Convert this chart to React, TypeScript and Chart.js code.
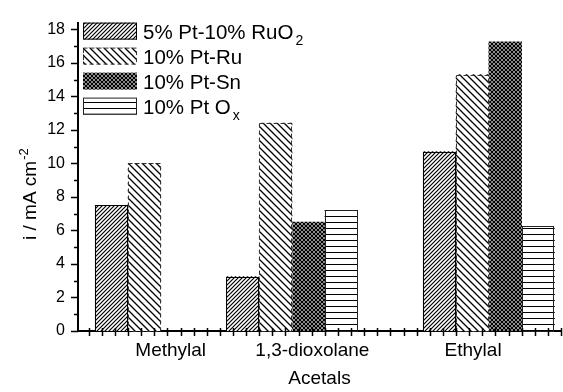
import React, { useEffect, useRef } from 'react';
import { Chart, registerables } from 'chart.js';

Chart.register(...registerables);

// ---- data ----
const CATEGORIES = ['Methylal', '1,3-dioxolane', 'Ethylal'];
const GROUP_X = [5.5, 15.5, 30.5];
const LABEL_X = [6.25, 17.05, 29.3];
const SERIES_NAMES = ['5% Pt-10% RuO', '10% Pt-Ru', '10% Pt-Sn', '10% Pt O'];
const SERIES_SUBS = ['2', '', '', 'x'];
const RUO2 = [7.5, 3.25, 10.7];
const PTRU = [10.0, 12.4, 15.3];
const PTSN: (number | null)[] = [null, 6.5, 17.25];
const PTOX: (number | null)[] = [null, 7.2, 6.27];
const X_MIN = -0.815;
const X_MAX = 36;
const Y_MIN = 0;
const Y_MAX = 18.4;
const X_TITLE = 'Acetals';
const Y_TITLE = 'i / mA cm';
const Y_TITLE_SUP = '-2';

const FONT = '"Liberation Sans", Arial, sans-serif';

type Kind = 'fwd' | 'back' | 'cross' | 'horiz';

function makePattern(ctx: CanvasRenderingContext2D, kind: Kind): CanvasPattern {
  const c = document.createElement('canvas');
  let w = 4, h = 4;
  if (kind === 'back') { w = 7; h = 7; }
  if (kind === 'horiz') { w = 4; h = 6; }
  c.width = w; c.height = h;
  const g = c.getContext('2d')!;
  g.fillStyle = '#fff';
  g.fillRect(0, 0, w, h);
  g.strokeStyle = '#000';
  if (kind === 'fwd' || kind === 'cross') {
    g.lineWidth = kind === 'cross' ? 1.3 : 1.2;
    const s = w;
    g.beginPath();
    g.moveTo(-1, 1); g.lineTo(1, -1);
    g.moveTo(0, s); g.lineTo(s, 0);
    g.moveTo(s - 1, s + 1); g.lineTo(s + 1, s - 1);
    g.stroke();
  }
  if (kind === 'back' || kind === 'cross') {
    g.lineWidth = 1.3;
    const s = w;
    g.beginPath();
    g.moveTo(0, 0); g.lineTo(s, s);
    g.moveTo(-1, s - 1); g.lineTo(1, s + 1);
    g.moveTo(s - 1, -1); g.lineTo(s + 1, 1);
    g.stroke();
  }
  if (kind === 'horiz') {
    g.fillStyle = '#000';
    g.fillRect(0, 0, w, 1);
  }
  return ctx.createPattern(c, 'repeat')!;
}

const KINDS: Kind[] = ['fwd', 'back', 'cross', 'horiz'];
const BORDERS = [
  { show: true, dash: [] as number[], color: '#000' },
  { show: true, dash: [4, 3], color: '#333' },
  { show: false, dash: [] as number[], color: '#000' },
  { show: true, dash: [] as number[], color: '#222' },
];

export default function App() {
  const ref = useRef<HTMLCanvasElement>(null);

  useEffect(() => {
    const canvas = ref.current!;
    const ctx = canvas.getContext('2d')!;
    const patterns = KINDS.map((k) => makePattern(ctx, k));
    const seriesValues = [RUO2, PTRU, PTSN, PTOX];

    const decorations = {
      id: 'decorations',
      afterDatasetsDraw(chart: any) {
        const c = chart.ctx as CanvasRenderingContext2D;
        chart.data.datasets.forEach((ds: any, di: number) => {
          const b = BORDERS[di];
          if (!b.show) return;
          const meta = chart.getDatasetMeta(di);
          meta.data.forEach((el: any, i: number) => {
            if (ds.data[i].y == null) return;
            const p = el.getProps(['x', 'y', 'base', 'width'], true);
            const left = Math.round(p.x - p.width / 2);
            const right = Math.round(p.x + p.width / 2);
            const top = Math.round(p.y);
            const bottom = Math.round(p.base);
            c.save();
            c.lineWidth = 1;
            c.strokeStyle = b.color;
            c.setLineDash(b.dash);
            c.strokeRect(left + 0.5, top + 0.5, right - left - 1, bottom - top);
            c.restore();
          });
        });
      },
      afterDraw(chart: any) {
        const c = chart.ctx as CanvasRenderingContext2D;
        const xs = chart.scales.x;
        const ys = chart.scales.y;
        const ca = chart.chartArea;
        c.save();
        c.strokeStyle = '#000';
        c.lineWidth = 1.5;
        // x minor ticks crossing the axis
        c.beginPath();
        for (let v = Math.ceil(xs.min); v <= xs.max + 1e-9; v++) {
          const px = Math.round(xs.getPixelForValue(v)) + 0.5;
          c.moveTo(px, ca.bottom - 3);
          c.lineTo(px, ca.bottom + 5);
        }
        c.stroke();
        // y ticks outward
        c.beginPath();
        for (let v = Math.ceil(ys.min); v <= ys.max + 1e-9; v++) {
          const py = Math.round(ys.getPixelForValue(v)) + 0.5;
          const len = v % 2 === 0 ? 7 : 4;
          c.moveTo(ca.left, py);
          c.lineTo(ca.left - len, py);
        }
        c.stroke();

        // y title with superscript
        c.fillStyle = '#000';
        c.save();
        c.translate(36, 240);
        c.rotate(-Math.PI / 2);
        c.font = `19px ${FONT}`;
        c.textAlign = 'left';
        c.textBaseline = 'alphabetic';
        c.fillText(Y_TITLE, 0, 0);
        const tw = c.measureText(Y_TITLE).width;
        c.font = `13px ${FONT}`;
        c.fillText(Y_TITLE_SUP, tw + 1, -8);
        c.restore();

        // legend
        for (let i = 0; i < SERIES_NAMES.length; i++) {
          const bx = ca.left + 5;
          const by = ca.top + 25 * i;
          const bw = 54, bh = 17;
          c.fillStyle = patterns[i];
          c.fillRect(bx, by, bw, bh);
          const b = BORDERS[i];
          if (b.show) {
            c.save();
            c.lineWidth = 1;
            c.strokeStyle = b.color;
            c.setLineDash(b.dash);
            c.strokeRect(bx + 0.5, by + 0.5, bw - 1, bh - 1);
            c.restore();
          }
          c.fillStyle = '#000';
          c.font = `20.5px ${FONT}`;
          c.textAlign = 'left';
          c.textBaseline = 'alphabetic';
          const tx = ca.left + 65;
          const ty = by + 16;
          c.fillText(SERIES_NAMES[i], tx, ty);
          if (SERIES_SUBS[i]) {
            const w = c.measureText(SERIES_NAMES[i]).width;
            c.font = `14px ${FONT}`;
            c.fillText(SERIES_SUBS[i], tx + w + 2, ty + 6);
          }
        }
        c.restore();
      },
    };

    const chart = new Chart(canvas, {
      type: 'bar',
      data: {
        datasets: SERIES_NAMES.map((name, di) => ({
          label: name + SERIES_SUBS[di],
          data: seriesValues[di].map((v, i) => ({ x: GROUP_X[i], y: v })),
          backgroundColor: patterns[di],
          borderWidth: 0,
          categoryPercentage: 1,
          barPercentage: 1,
        })) as any,
      },
      options: {
        animation: false,
        responsive: false,
        devicePixelRatio: 1,
        layout: { padding: { top: 18, right: 2, left: 0, bottom: 0 } },
        plugins: { legend: { display: false }, tooltip: { enabled: false } },
        scales: {
          x: {
            type: 'linear',
            offset: false,
            min: X_MIN,
            max: X_MAX,
            afterBuildTicks: (s: any) => {
              s.ticks = LABEL_X.map((v) => ({ value: v }));
            },
            afterFit: (s: any) => {
              s.height = 61;
            },
            ticks: {
              autoSkip: false,
              maxRotation: 0,
              padding: 8,
              color: '#000',
              font: { family: FONT, size: 19 },
              callback: (_v: any, i: number) => CATEGORIES[i],
            },
            grid: { display: false, drawTicks: false, offset: false },
            border: { display: true, color: '#000', width: 2 },
            title: {
              display: true,
              text: X_TITLE,
              color: '#000',
              font: { family: FONT, size: 19 },
              padding: { top: 0, bottom: 2 },
            },
          },
          y: {
            min: Y_MIN,
            max: Y_MAX,
            afterFit: (s: any) => {
              s.width = 78;
            },
            ticks: {
              stepSize: 1,
              includeBounds: false,
              autoSkip: false,
              padding: 13,
              color: '#000',
              font: { family: FONT, size: 16 },
              callback: (v: any) => (Number(v) % 2 === 0 ? String(v) : ''),
            },
            grid: { display: false, drawTicks: false },
            border: { display: true, color: '#000', width: 2 },
          },
        },
      } as any,
      plugins: [decorations],
    });
    return () => chart.destroy();
  }, []);

  return (
    <div style={{ position: 'absolute', left: 0, top: 0, width: 563, height: 392, background: '#fff' }}>
      <canvas ref={ref} width={563} height={392} style={{ display: 'block' }} />
    </div>
  );
}
